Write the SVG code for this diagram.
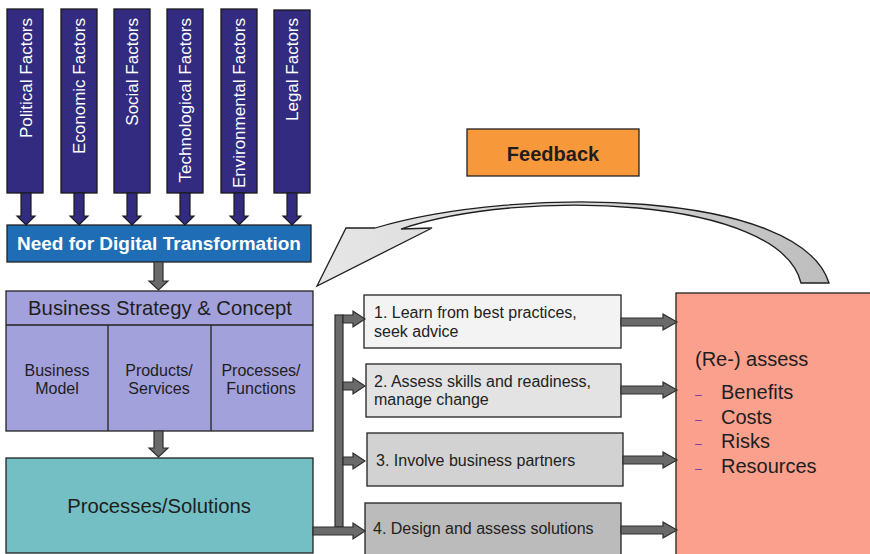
<svg xmlns="http://www.w3.org/2000/svg" width="870" height="554" viewBox="0 0 870 554">
  <style>
    .factor { fill: #322b7f; stroke: #1a1a1a; stroke-width: 1.3; }
    .factor-text { font-family: "Liberation Sans", Arial, sans-serif; font-size: 17px; fill: #ffffff; text-anchor: end; }
    .blue-arrow { fill: #322b7f; stroke: #1a1a1a; stroke-width: 1.2; }
    .gray-arrow { fill: #6a6a6a; stroke: #2e2e2e; stroke-width: 1.2; }
    .box { stroke: #222222; stroke-width: 1.3; }
    .label { font-family: "Liberation Sans", Arial, sans-serif; fill: #1e1e1e; }
    .step-text { font-family: "Liberation Sans", Arial, sans-serif; font-size: 16px; fill: #222222; }
    .assess { font-family: "Liberation Sans", Arial, sans-serif; font-size: 20px; fill: #1e1e1e; }
    .dash { font-family: "Liberation Sans", Arial, sans-serif; font-size: 12px; fill: #6b3fa0; }
  </style>
  <defs>
    <polygon id="down-arrow" points="-5,0 5,0 5,23 9,23 0,32 -9,23 -5,23"/>
    <polygon id="right-arrow" points="0,-4 42,-4 42,-8 56,0 42,8 42,4 0,4"/>
    <polygon id="branch-arrow" points="0,-4 10,-4 10,-8 22,0 10,8 10,4 0,4"/>
    <linearGradient id="feedback-fill" x1="0" y1="0" x2="1" y2="0">
      <stop offset="0" stop-color="#e6e6e6"/>
      <stop offset="0.5" stop-color="#d6d6d6"/>
      <stop offset="1" stop-color="#bdbdbd"/>
    </linearGradient>
  </defs>

  <!-- external factors -->
  <g id="political-factors">
    <rect class="factor" x="7" y="9" width="36" height="184"/>
    <text class="factor-text" transform="translate(32,18) rotate(-90)">Political Factors</text>
  </g>
  <g id="economic-factors">
    <rect class="factor" x="61" y="9" width="36" height="184"/>
    <text class="factor-text" transform="translate(85,18) rotate(-90)">Economic Factors</text>
  </g>
  <g id="social-factors">
    <rect class="factor" x="114" y="9" width="36" height="184"/>
    <text class="factor-text" transform="translate(138,18) rotate(-90)">Social Factors</text>
  </g>
  <g id="technological-factors">
    <rect class="factor" x="167" y="9" width="36" height="184"/>
    <text class="factor-text" transform="translate(191,18) rotate(-90)">Technological Factors</text>
  </g>
  <g id="environmental-factors">
    <rect class="factor" x="221" y="9" width="36" height="184"/>
    <text class="factor-text" transform="translate(245,18) rotate(-90)">Environmental Factors</text>
  </g>
  <g id="legal-factors">
    <rect class="factor" x="274" y="10" width="36" height="183"/>
    <text class="factor-text" transform="translate(298,18) rotate(-90)">Legal Factors</text>
  </g>

  <!-- need for transformation -->
  <g id="need">
    <rect class="box" x="7" y="225" width="304" height="37" fill="#1f6db5"/>
    <text x="159" y="250" text-anchor="middle" font-family="Liberation Sans, Arial, sans-serif" font-size="19" font-weight="bold" fill="#ffffff">Need for Digital Transformation</text>
  </g>

  <!-- business strategy -->
  <g id="business-strategy">
    <rect class="box" x="6" y="291" width="307" height="140" fill="#a3a1db"/>
    <line class="box" x1="6" y1="325" x2="313" y2="325"/>
    <line class="box" x1="108" y1="325" x2="108" y2="431"/>
    <line class="box" x1="211" y1="325" x2="211" y2="431"/>
    <text class="label" x="160" y="315" text-anchor="middle" font-size="20.3">Business Strategy &amp; Concept</text>
    <text class="label" x="57" y="376" text-anchor="middle" font-size="16">Business</text>
    <text class="label" x="57" y="394" text-anchor="middle" font-size="16">Model</text>
    <text class="label" x="159" y="376" text-anchor="middle" font-size="16">Products/</text>
    <text class="label" x="159" y="394" text-anchor="middle" font-size="16">Services</text>
    <text class="label" x="261" y="376" text-anchor="middle" font-size="16">Processes/</text>
    <text class="label" x="261" y="394" text-anchor="middle" font-size="16">Functions</text>
  </g>

  <!-- processes / solutions -->
  <g id="processes-solutions">
    <rect class="box" x="6" y="458" width="307" height="95" fill="#73bfc4"/>
    <text class="label" x="159" y="513" text-anchor="middle" font-size="20.3">Processes/Solutions</text>
  </g>

  <!-- feedback label -->
  <g id="feedback">
    <rect class="box" x="467" y="129" width="172" height="47" fill="#f7993b"/>
    <text x="553" y="161" text-anchor="middle" font-family="Liberation Sans, Arial, sans-serif" font-size="20" font-weight="bold" fill="#1e1e1e">Feedback</text>
  </g>

  <!-- action steps -->
  <g id="step-1">
    <rect class="box" x="364" y="295" width="257" height="53" fill="#f3f3f3"/>
    <text class="step-text" x="374" y="318">1. Learn from best practices,</text>
    <text class="step-text" x="374" y="337">seek advice</text>
  </g>
  <g id="step-2">
    <rect class="box" x="366" y="364" width="255" height="53" fill="#e3e3e3"/>
    <text class="step-text" x="374" y="387">2. Assess skills and readiness,</text>
    <text class="step-text" x="374" y="405">manage change</text>
  </g>
  <g id="step-3">
    <rect class="box" x="367" y="433" width="256" height="53" fill="#d2d2d2"/>
    <text class="step-text" x="376" y="466">3. Involve business partners</text>
  </g>
  <g id="step-4">
    <rect class="box" x="365" y="503" width="256" height="60" fill="#bbbbbb"/>
    <text class="step-text" x="373" y="534">4. Design and assess solutions</text>
  </g>

  <!-- assessment -->
  <g id="reassess">
    <rect class="box" x="676" y="293" width="210" height="280" fill="#fba08c"/>
    <text class="assess" x="695" y="366">(Re-) assess</text>
    <text class="dash" x="695" y="399">–</text>
    <text class="assess" x="721" y="399">Benefits</text>
    <text class="dash" x="695" y="424">–</text>
    <text class="assess" x="721" y="424">Costs</text>
    <text class="dash" x="695" y="448">–</text>
    <text class="assess" x="721" y="448">Risks</text>
    <text class="dash" x="695" y="473">–</text>
    <text class="assess" x="721" y="473">Resources</text>
  </g>

  <!-- connectors -->
  <g id="connectors">
    <use href="#down-arrow" class="blue-arrow" x="26" y="193"/>
    <use href="#down-arrow" class="blue-arrow" x="79" y="193"/>
    <use href="#down-arrow" class="blue-arrow" x="132" y="193"/>
    <use href="#down-arrow" class="blue-arrow" x="185" y="193"/>
    <use href="#down-arrow" class="blue-arrow" x="239" y="193"/>
    <use href="#down-arrow" class="blue-arrow" x="292" y="193"/>

    <polygon class="gray-arrow" points="154,262 163,262 163,281 168,281 158.5,290 149,281 154,281"/>
    <polygon class="gray-arrow" points="154,431 163,431 163,448 168,448 158.5,457 149,448 154,448"/>

    <!-- distribution bus to the steps -->
    <rect class="gray-arrow" x="335" y="315" width="8" height="212"/>
    <use href="#branch-arrow" class="gray-arrow" x="343" y="319"/>
    <use href="#branch-arrow" class="gray-arrow" x="343" y="386"/>
    <use href="#branch-arrow" class="gray-arrow" x="343" y="461"/>
    <polygon class="gray-arrow" points="313,527 353,527 353,523 365,531 353,539 353,535 313,535"/>

    <!-- steps into assessment -->
    <use href="#right-arrow" class="gray-arrow" x="621" y="322"/>
    <use href="#right-arrow" class="gray-arrow" x="621" y="390"/>
    <polygon class="gray-arrow" points="623,456 663,456 663,452 677,460 663,468 663,464 623,464"/>
    <use href="#right-arrow" class="gray-arrow" x="621" y="530"/>

    <!-- feedback loop -->
    <path d="M829,283 L801,283 C780,196 520,188 401,229 L432,228 L317,286 L346,228 L375,228 C520,185 800,190 829,283 Z" fill="url(#feedback-fill)" stroke="#1e1e1e" stroke-width="1.3" stroke-linejoin="miter"/>
  </g>
</svg>
